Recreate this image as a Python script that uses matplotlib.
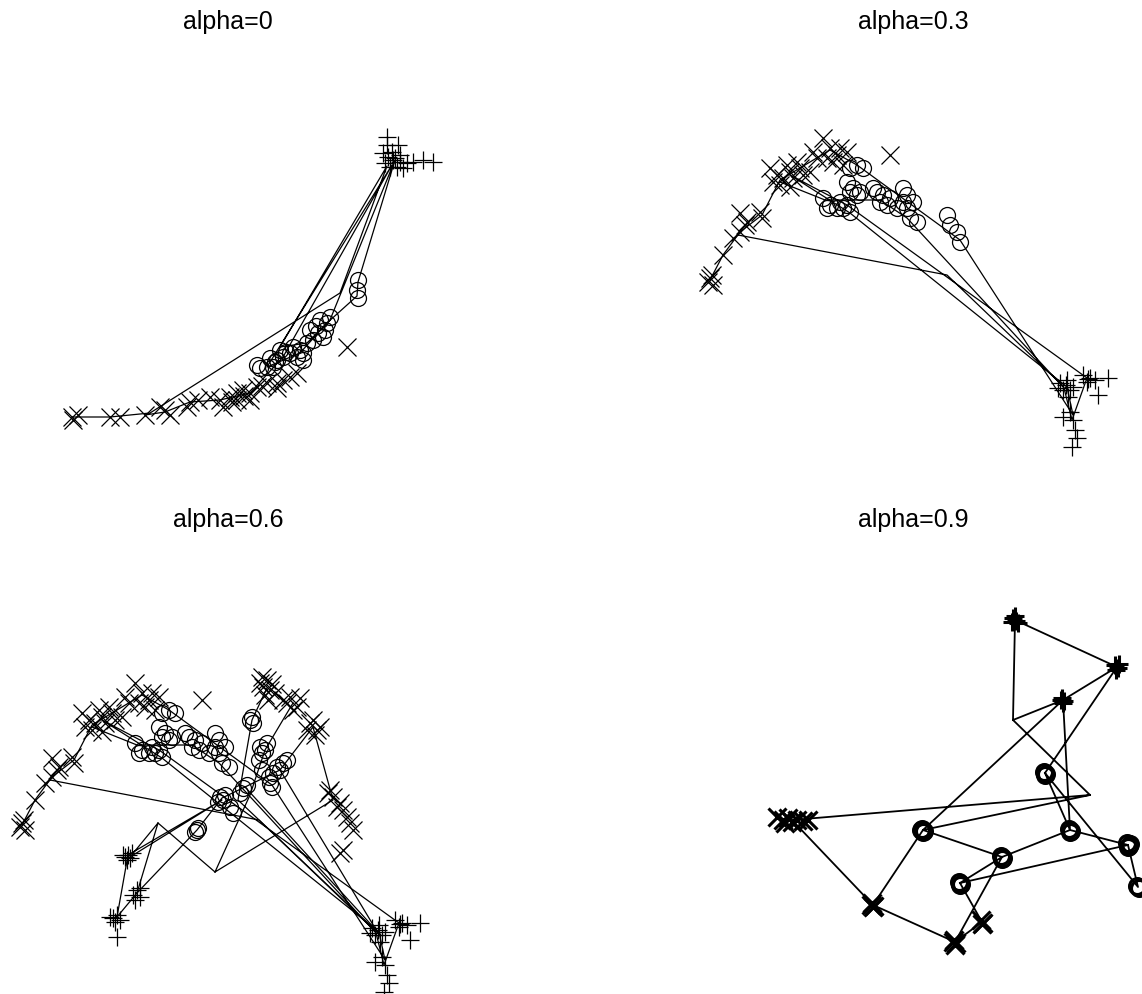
import numpy as np
import matplotlib
matplotlib.use("Agg")
import matplotlib.pyplot as plt

W, H = 1142, 994
plt.rcParams['font.family'] = ['Liberation Sans', 'DejaVu Sans']

TITLES = ["alpha=0", "alpha=0.3", "alpha=0.6", "alpha=0.9"]

# ---------------- panel alpha=0 ----------------
A0_X = [(72, 417), (78, 415), (73, 420), (110, 417), (120, 417), (145, 415), (165, 410), (170, 415),
        (160, 407), (190, 402), (198, 400), (187, 407), (210, 397), (220, 400), (223, 407), (230, 397),
        (237, 393), (243, 390), (250, 393), (257, 387), (267, 383), (277, 383), (283, 380), (290, 377),
        (297, 373), (237, 400), (250, 400), (277, 388), (347, 347), (232, 402), (244, 396), (262, 386)]
A0_O = [(358, 280), (357, 290), (358, 298), (330, 317), (327, 323), (325, 330), (323, 337), (318, 333),
        (313, 340), (307, 343), (303, 353), (300, 350), (297, 357), (290, 353), (283, 357), (277, 360),
        (273, 367), (267, 367), (260, 368), (257, 365), (270, 358), (280, 350), (293, 347), (310, 330),
        (303, 360), (320, 320), (286, 352), (275, 362), (316, 326)]
A0_P = [(387, 137), (387, 145), (398, 145), (383, 153), (388, 157), (393, 160), (400, 162), (407, 163),
        (413, 162), (423, 160), (433, 162), (390, 167), (397, 167), (403, 168), (385, 163), (392, 152),
        (395, 158), (400, 155)]
A0_PATH = [(72, 417), (110, 417), (150, 413), (340, 293), (387, 166), (280, 347), (307, 343), (330, 320),
           (395, 160), (358, 282), (357, 296), (327, 323), (300, 353), (267, 367), (392, 165), (283, 357),
           (250, 393), (220, 400), (190, 402), (165, 412), (145, 415)]

# ---------------- panel alpha=0.3 ----------------
A3_X = [(710, 278), (708, 282), (712, 275), (713, 285), (723, 255), (733, 238), (740, 232), (740, 213),
        (747, 222), (745, 225), (760, 212), (762, 218), (770, 168), (777, 175), (783, 178), (780, 185),
        (790, 172), (793, 178), (800, 168), (803, 175), (787, 165), (797, 162), (773, 182), (790, 187),
        (810, 172), (823, 138), (830, 148), (837, 155), (833, 162), (827, 158), (840, 148), (847, 152),
        (813, 152), (817, 158), (843, 165), (890, 155)]
A3_O = [(857, 165), (850, 168), (863, 168), (847, 182), (853, 188), (860, 192), (857, 195), (850, 192),
        (823, 198), (830, 205), (837, 208), (843, 208), (850, 212), (827, 208), (840, 202), (847, 205),
        (877, 192), (883, 195), (890, 198), (880, 202), (887, 205), (897, 208), (873, 188), (903, 188),
        (907, 195), (913, 202), (907, 208), (910, 218), (917, 222), (903, 202), (947, 215), (950, 225),
        (957, 232), (960, 242)]
A3_P = [(1060, 383), (1067, 380), (1070, 390), (1063, 390), (1073, 387), (1068, 397), (1058, 388),
        (1083, 375), (1090, 378), (1095, 380), (1087, 382), (1108, 378), (1098, 395), (1063, 417),
        (1070, 412), (1073, 420), (1075, 430), (1077, 438), (1072, 447), (1066, 385), (1088, 379)]
A3_PATH = [(710, 280), (723, 255), (740, 232), (762, 215), (780, 180), (800, 168), (830, 150), (857, 165),
           (905, 200), (960, 240), (1073, 415), (1067, 387), (850, 213), (790, 175), (847, 205), (1087, 378),
           (1072, 420), (1064, 388), (907, 218), (880, 200), (825, 200), (780, 182), None,
           (738, 235), (947, 275), (1063, 386)]

# ---------------- panel alpha=0.6 (adds to alpha=0.3 data) ----------------
A6_X = [(955, 135), (951, 142), (958, 145), (953, 150), (960, 139), (948, 138), (956, 155), (963, 148),
        (950, 132), (978, 152), (985, 162), (975, 158), (988, 153), (981, 165), (971, 155), (998, 178),
        (1005, 185), (1001, 175), (1008, 182), (995, 185), (1003, 190), (1018, 245), (1021, 252),
        (1028, 258), (1031, 265), (1035, 272), (1038, 278), (1041, 285), (1025, 262), (1016, 248),
        (1031, 305), (1028, 308)]
A6_O = [(938, 175), (941, 178), (940, 172), (948, 202), (953, 205), (950, 208), (955, 198), (965, 222),
        (971, 218), (968, 225), (961, 228), (958, 238), (975, 215), (931, 243), (935, 240), (928, 248),
        (908, 252), (911, 255), (906, 257), (913, 250), (918, 262), (921, 268), (885, 285), (883, 287),
        (886, 283)]
A6_P = [(816, 310), (813, 312), (820, 308), (818, 313), (811, 310), (815, 315), (825, 345), (821, 350),
        (828, 352), (823, 355), (828, 343), (805, 370), (801, 373), (808, 375), (803, 377), (798, 372),
        (805, 392)]
A6_PATH = [(805, 372), (816, 310), (910, 255), (818, 312), (846, 278), (825, 348), (805, 372), None,
           (825, 348), (885, 285), (910, 253), (933, 242), (968, 225), (1001, 182), (1021, 255),
           (903, 327), (846, 278), None,
           (903, 327), (938, 250), (953, 205), (981, 158), None,
           (955, 143), (940, 175), (926, 255), (1066, 388), None,
           (968, 225), (1066, 388), None,
           (933, 242), (1064, 385)]

# ---------------- panel alpha=0.9 ----------------
A9_X = [(777, 817), (783, 820), (788, 818), (792, 822), (797, 820), (803, 821), (808, 820), (785, 823),
        (872, 903), (874, 906), (873, 907), (871, 905), (954, 940), (956, 943), (955, 945), (953, 942),
        (981, 920), (983, 923), (982, 924)]
A9_O = [(1044, 772), (1046, 774), (1045, 775), (922, 829), (924, 831), (923, 832), (921, 830),
        (1069, 829), (1071, 831), (1070, 832), (1001, 856), (1003, 858), (1002, 859), (959, 882),
        (961, 884), (960, 885), (1127, 843), (1129, 846), (1128, 847), (1130, 844), (1137, 886),
        (1139, 888)]
A9_P = [(1013, 618), (1016, 621), (1015, 616), (1018, 623), (1012, 622), (1115, 665), (1118, 668),
        (1116, 670), (1119, 664), (1062, 698), (1064, 701), (1063, 703), (1061, 700)]
A9_PATH = [(1013, 720), (1015, 620), (1117, 667), (1063, 700), (1013, 720), (1090, 795), (792, 820),
           (873, 905), (923, 830), (1063, 700), (1070, 830), (1045, 773), (1117, 667), None,
           (1045, 773), (1138, 887), (1128, 845), (1070, 830), (1002, 857), (923, 830), (1090, 795), None,
           (1002, 857), (960, 883), (1128, 845), None,
           (960, 883), (982, 922), (955, 942), (1002, 857), None,
           (955, 942), (873, 905)]

PANELS = [
    dict(rect=(0, 45, 456, 470), xlim=(0, 456), ylim=(470, 45),
         xs=[A0_X], os=[A0_O], ps=[A0_P], paths=[A0_PATH], lw=0.9, mew=0.9),
    dict(rect=(686, 45, 1142, 470), xlim=(686, 1142), ylim=(470, 45),
         xs=[A3_X], os=[A3_O], ps=[A3_P], paths=[A3_PATH], lw=0.9, mew=0.9),
    dict(rect=(0, 545, 456, 994), xlim=(688, 1144), ylim=(449, 0),
         xs=[A3_X, A6_X], os=[A3_O, A6_O], ps=[A3_P, A6_P], paths=[A3_PATH, A6_PATH], lw=0.9, mew=0.9),
    dict(rect=(686, 545, 1142, 994), xlim=(686, 1142), ylim=(994, 545),
         xs=[A9_X], os=[A9_O], ps=[A9_P], paths=[A9_PATH], lw=1.3, mew=2.2),
]
TITLE_POS = [(228, 22), (913, 22), (228, 520), (913, 520)]


def unzip(pts):
    xs = [np.nan if p is None else p[0] for p in pts]
    ys = [np.nan if p is None else p[1] for p in pts]
    return xs, ys


fig = plt.figure(figsize=(W / 100, H / 100), dpi=100)
for panel, title, tpos in zip(PANELS, TITLES, TITLE_POS):
    x0, y0, x1, y1 = panel['rect']
    ax = fig.add_axes([x0 / W, 1 - y1 / H, (x1 - x0) / W, (y1 - y0) / H])
    ax.set_xlim(*panel['xlim'])
    ax.set_ylim(*panel['ylim'])
    ax.axis('off')
    mew = panel['mew']
    for path in panel['paths']:
        px, py = unzip(path)
        ax.plot(px, py, color='black', lw=panel['lw'], zorder=1)
    for pts in panel['xs']:
        px, py = unzip(pts)
        ax.plot(px, py, ls='none', marker='x', ms=13.5, mew=mew, color='black', zorder=2)
    for pts in panel['os']:
        px, py = unzip(pts)
        ax.plot(px, py, ls='none', marker='o', ms=11.5, mew=mew, mfc='none', mec='black', zorder=2)
    for pts in panel['ps']:
        px, py = unzip(pts)
        ax.plot(px, py, ls='none', marker='+', ms=13.5, mew=mew, color='black', zorder=2)
    fig.text(tpos[0] / W, 1 - tpos[1] / H, title, ha='center', va='center', fontsize=18)

fig.savefig("out.png", dpi=100)
